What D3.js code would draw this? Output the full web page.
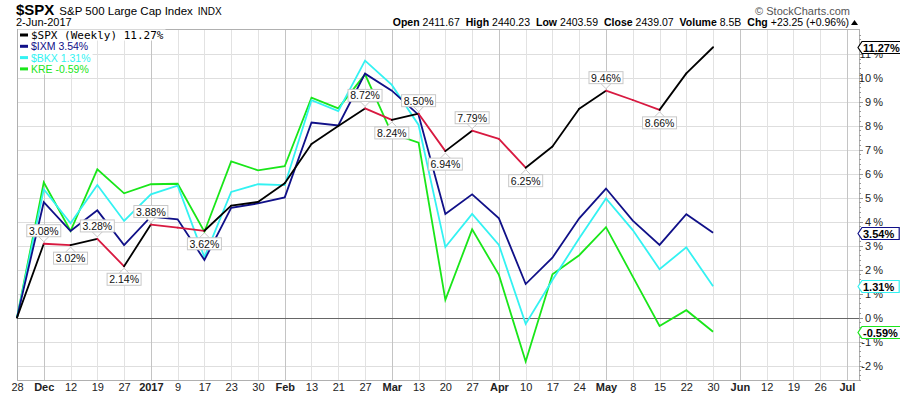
<!DOCTYPE html>
<html lang="en">
<head>
<meta charset="UTF-8" />
<title>$SPX S&amp;P 500 Large Cap Index</title>
<script src="https://d3js.org/d3.v7.min.js"></script>
<style>
  body { margin: 0; background: #fff; }
  svg { display: block; font-family: "Liberation Sans", Arial, sans-serif; }
  .grid line { shape-rendering: crispEdges; }
  .axis path { display: none; }
  .axis line { stroke: #999; shape-rendering: crispEdges; }
  .axis text { fill: #222; }
</style>
</head>
<body>
<svg width="900" height="396"></svg>
<script>
// weekly categories along the bottom axis
const weekLabels = ["28","Dec","12","19","27","2017","9","17","23","30","Feb","13","21","27","Mar","13","20","27","Apr","10","17","24","May","8","15","22","30","Jun","12","19","26","Jul"];
const monthLabels = ["Dec","2017","Feb","Mar","Apr","May","Jun","Jul"];

// % change since 28 Nov 2016, weekly closes
const spx = [0, 3.08, 3.02, 3.28, 2.14, 3.88, 3.75, 3.62, 4.67, 4.82, 5.60, 7.24, 7.99, 8.72, 8.24, 8.50, 6.94, 7.79, 7.45, 6.25, 7.13, 8.71, 9.46, 9.07, 8.66, 10.18, 11.27];
const ixm = [0, 4.81, 3.61, 4.47, 3.02, 4.21, 4.10, 2.40, 4.58, 4.76, 5.01, 8.13, 8.01, 10.17, 9.46, 8.45, 4.32, 5.14, 4.14, 1.40, 2.50, 4.14, 5.38, 4.04, 3.03, 4.31, 3.54];
const bkx = [0, 5.35, 3.93, 5.53, 4.03, 5.14, 5.50, 2.52, 5.24, 5.56, 5.52, 9.06, 8.61, 10.71, 9.70, 8.03, 2.94, 4.32, 3.03, -0.26, 1.57, 3.31, 4.97, 3.65, 2.02, 2.93, 1.31];
const kre = [0, 5.64, 3.61, 6.18, 5.18, 5.56, 5.58, 3.58, 6.51, 6.14, 6.31, 9.17, 8.72, 10.14, 7.67, 7.29, 0.74, 3.68, 1.78, -1.83, 1.81, 2.60, 3.77, 1.71, -0.35, 0.31, -0.59];

const yTicks = d3.range(-2, 12);

const svg = d3.select("svg");
const plotLeft = 17, plotRight = 859, plotTop = 29, plotBottom = 380;

const x = d3.scaleLinear().domain([0, 31.45]).range([plotLeft, plotRight]);
const y = d3.scaleLinear().domain([-2.6, 12.03]).range([plotBottom, plotTop]);
const fmt = v => d3.format(".2f")(v).replace("\u2212", "-");

const upColor = "#000", downColor = "#d81940";
const series = [
  { name: "KRE", values: kre, color: "#19e619" },
  { name: "$BKX", values: bkx, color: "#33f2f2" },
  { name: "$IXM", values: ixm, color: "#101088" }
];

// grid
const grid = svg.append("g").attr("class", "grid");
grid.selectAll(".h").data(yTicks).enter().append("line")
  .attr("x1", plotLeft).attr("x2", plotRight)
  .attr("y1", d => Math.round(y(d)) + 0.5).attr("y2", d => Math.round(y(d)) + 0.5)
  .attr("stroke", "#dedede");
grid.selectAll(".v").data(d3.range(1, weekLabels.length)).enter().append("line")
  .attr("x1", d => Math.round(x(d)) + 0.5).attr("x2", d => Math.round(x(d)) + 0.5)
  .attr("y1", plotTop).attr("y2", plotBottom)
  .attr("stroke", d => monthLabels.includes(weekLabels[d]) ? "#c4c4c4" : "#e2e2e2");

svg.append("rect")
  .attr("x", plotLeft + 0.5).attr("y", plotTop + 0.5)
  .attr("width", plotRight - plotLeft).attr("height", plotBottom - plotTop)
  .attr("fill", "none").attr("stroke", "#b0b0b0");

svg.append("line")
  .attr("x1", plotLeft).attr("x2", plotRight)
  .attr("y1", Math.round(y(0)) + 0.5).attr("y2", Math.round(y(0)) + 0.5)
  .attr("stroke", "#666").attr("stroke-width", 1.2);

// axes
const xAxis = svg.append("g").attr("class", "axis")
  .attr("transform", `translate(0,${plotBottom})`)
  .call(d3.axisBottom(x).tickValues(d3.range(0, weekLabels.length))
    .tickSize(0).tickPadding(3).tickFormat(i => weekLabels[i]));
xAxis.selectAll("text")
  .style("font-size", "11px")
  .style("font-weight", i => monthLabels.includes(weekLabels[i]) ? "bold" : "normal");

svg.append("g").attr("class", "axis")
  .attr("transform", `translate(${plotRight},0)`)
  .call(d3.axisRight(y).tickValues(d3.range(-2.6, 12.0, 0.2)).tickSize(2).tickFormat(""));
const yAxis = svg.append("g").attr("class", "axis")
  .attr("transform", `translate(${plotRight},0)`)
  .call(d3.axisRight(y).tickValues(yTicks).tickSize(4).tickFormat(d => d + "\u2009%"));
yAxis.selectAll("text")
  .attr("x", 24).attr("text-anchor", "end")
  .style("font-size", "11px");

// comparison lines
const line = d3.line().x((d, i) => x(i)).y(d => y(d));
series.forEach(s => {
  svg.append("path")
    .attr("d", line(s.values))
    .attr("fill", "none")
    .attr("stroke", s.color)
    .attr("stroke-width", 1.8)
    .attr("stroke-linejoin", "miter");
});

// $SPX: black when rising, red when falling
svg.append("g").selectAll("line")
  .data(d3.pairs(spx.map((v, i) => [i, v])))
  .enter().append("line")
  .attr("x1", d => x(d[0][0])).attr("y1", d => y(d[0][1]))
  .attr("x2", d => x(d[1][0])).attr("y2", d => y(d[1][1]))
  .attr("stroke", d => d[1][1] < d[0][1] ? downColor : upColor)
  .attr("stroke-width", 1.8)
  .attr("stroke-linecap", "round");

// peak / trough value boxes on $SPX
const extremes = [];
for (let i = 1; i < spx.length - 1; i++) {
  if (spx[i] > spx[i - 1] && spx[i] > spx[i + 1]) extremes.push({ i, v: spx[i], up: true });
  if (spx[i] < spx[i - 1] && spx[i] < spx[i + 1]) extremes.push({ i, v: spx[i], up: false });
}
const tags = svg.append("g").selectAll("g").data(extremes).enter().append("g")
  .attr("transform", d => `translate(${x(d.i)},${y(d.v)})`);
tags.append("path")
  .attr("d", d => d.up ? "M-5,-7L0,-2L5,-7" : "M-5,7L0,2L5,7")
  .attr("fill", "#fff").attr("stroke", "#c8c8c8");
tags.append("rect")
  .attr("x", -17).attr("width", 34).attr("height", 12)
  .attr("y", d => d.up ? -19 : 7)
  .attr("fill", "#fff").attr("stroke", "#c8c8c8");
tags.append("text")
  .attr("y", d => d.up ? -9 : 17)
  .attr("text-anchor", "middle")
  .style("font-size", "10.5px").attr("fill", "#111")
  .text(d => fmt(d.v) + "%");

// end-of-line tags on the right axis
const ends = [{ values: spx, color: "#000" }, ...series].map(s => ({ v: s.values[s.values.length - 1], color: s.color }));
const endTags = svg.append("g").selectAll("g").data(ends).enter().append("g")
  .attr("transform", d => `translate(${plotRight - 1},${Math.round(y(d.v)) + 0.5})`);
endTags.each(function (d) {
  const g = d3.select(this);
  const t = g.append("text").attr("x", 5).attr("y", 4)
    .style("font-size", "11px").style("font-weight", "bold").attr("fill", "#000")
    .text(fmt(d.v) + "%");
  const w = t.node().getComputedTextLength() + 6;
  g.insert("path", "text")
    .attr("d", `M0,0L4,-6H${4 + w}V6H4Z`)
    .attr("fill", "#fff").attr("stroke", d.color).attr("stroke-width", 1.2);
});

// legend
const legend = [
  { label: `$SPX (Weekly) ${fmt(spx[spx.length - 1])}%`, color: "#000", mono: true },
  { label: `$IXM ${fmt(ixm[ixm.length - 1])}%`, color: series[2].color },
  { label: `$BKX ${fmt(bkx[bkx.length - 1])}%`, color: series[1].color },
  { label: `KRE ${fmt(kre[kre.length - 1])}%`, color: series[0].color }
];
const lg = svg.append("g").selectAll("g").data(legend).enter().append("g")
  .attr("transform", (d, i) => `translate(${plotLeft + 1},${35 + i * 11.3})`);
lg.each(function (d) {
  const g = d3.select(this);
  const t = g.append("text").attr("x", 13).attr("y", 4)
    .style("font-family", d.mono ? "'DejaVu Sans Mono', monospace" : null)
    .style("font-size", d.mono ? "11px" : "10.5px")
    .attr("fill", d.color).text(d.label);
  const w = t.node().getComputedTextLength();
  g.insert("rect", "text").attr("x", 0).attr("y", -5.5).attr("width", w + 15).attr("height", 11).attr("fill", "#fff");
  g.append("line").attr("x1", 2).attr("x2", 10).attr("stroke", d.color).attr("stroke-width", 3);
});

// header
const h1 = svg.append("text").attr("x", 16).attr("y", 15);
h1.append("tspan").style("font-size", "15px").style("font-weight", "bold").text("$SPX");
h1.append("tspan").attr("dx", 5).style("font-size", "11.5px").text("S&P 500 Large Cap Index");
h1.append("tspan").attr("dx", 5).style("font-size", "10px").text("INDX");
svg.append("text").attr("x", 16).attr("y", 26).style("font-size", "11px").text("2-Jun-2017");

svg.append("text").attr("x", 850).attr("y", 15).attr("text-anchor", "end")
  .style("font-size", "11px").attr("fill", "#555").text("\u00a9 StockCharts.com");

const quote = [["Open", "2411.67"], ["High", "2440.23"], ["Low", "2403.59"], ["Close", "2439.07"], ["Volume", "8.5B"], ["Chg", "+23.25 (+0.96%)"]];
const q = svg.append("text").attr("x", 849).attr("y", 26).attr("text-anchor", "end").style("font-size", "10.5px");
quote.forEach(([k, v], i) => {
  q.append("tspan").attr("dx", i ? 6 : 0).style("font-weight", "bold").text(k);
  q.append("tspan").attr("dx", 3).text(v);
});
svg.append("path").attr("d", "M851,25L854.5,20L858,25Z").attr("fill", "#000");
</script>
</body>
</html>
